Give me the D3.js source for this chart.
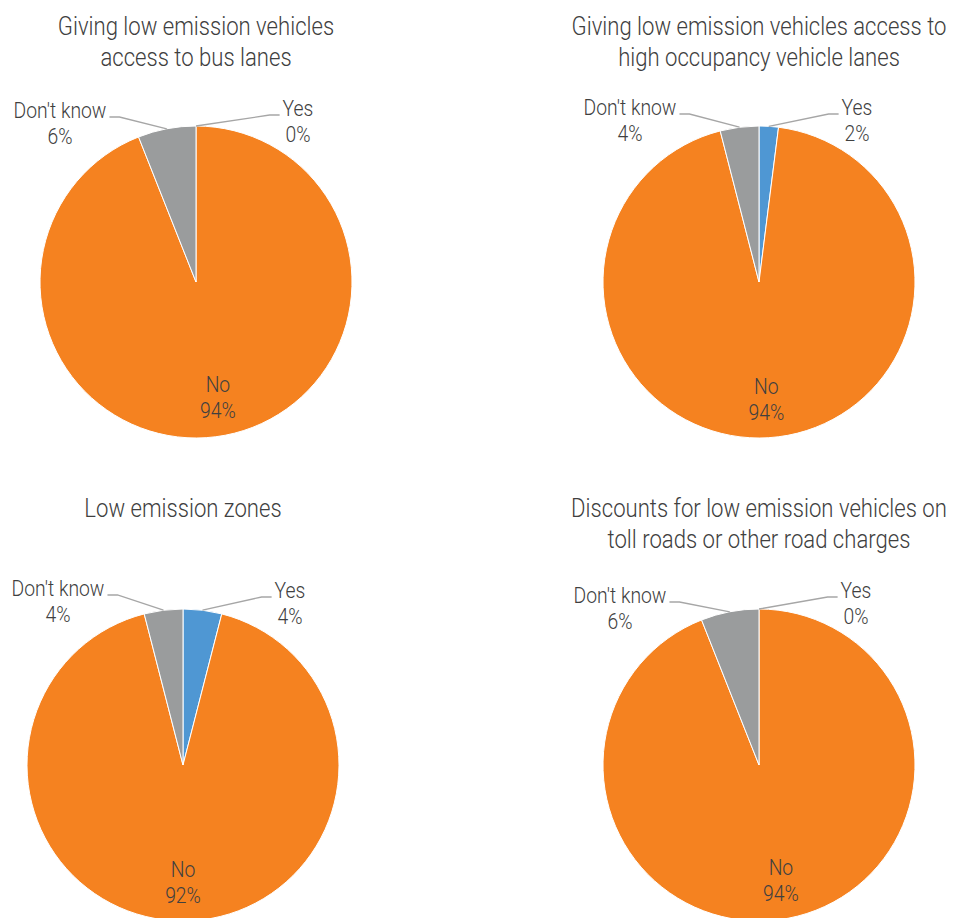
<!DOCTYPE html>
<html>
<head>
<meta charset="utf-8">
<script src="https://cdn.jsdelivr.net/npm/d3@7"></script>
<style>
  body { margin: 0; background: #fff; }
  text { font-family: "Roboto", sans-serif; font-weight: 300; fill: #404040; }
</style>
</head>
<body>
<svg id="chart" width="957" height="918"></svg>
<script>
// survey answers, one pie per measure
const titles = [
    ['Giving low emission vehicles', 'access to bus lanes'],
    ['Giving low emission vehicles access to', 'high occupancy vehicle lanes'],
    ['Low emission zones'],
    ['Discounts for low emission vehicles on', 'toll roads or other road charges']
];
const categories = ['Yes', 'No', "Don't know"];
const yesValues = [0, 2, 4, 0];
const noValues = [94, 94, 92, 94];
const dontKnowValues = [6, 4, 4, 6];

const colors = ['#4f97d3', '#f58220', '#9a9c9d'];

// where each pie sits, and the offsets of its small slice labels
const layout = [
    {cx: 196, cy: 282, titleY: 26, yesDx: 102, yesDy: -161, dkDx: -136, dkDy: -159},
    {cx: 759, cy: 282, titleY: 26, yesDx: 98, yesDy: -162, dkDx: -129, dkDy: -162},
    {cx: 183, cy: 765, titleY: 508, yesDx: 107, yesDy: -162, dkDx: -125, dkDy: -164},
    {cx: 759, cy: 765, titleY: 508, yesDx: 97, yesDy: -162, dkDx: -139, dkDy: -157}
];
const radius = 156;
const lineGap = 26;
// the original face is a narrow one, so squeeze the text sideways
const squeeze = 0.86;
const titleSqueeze = 0.885;

const svg = d3.select('#chart');

const pie = d3.pie().sort(null).value(d => d.value);
const arc = d3.arc().innerRadius(0).outerRadius(radius);

function narrowText(parent, x, y, size, sx) {
    return parent.append('text')
        .attr('transform', 'translate(' + x + ',' + y + ') scale(' + sx + ',1)')
        .attr('text-anchor', 'middle')
        .attr('font-size', size);
}

function drawPie(i) {
    const pos = layout[i];
    const data = categories.map((c, k) => ({
        name: c,
        value: [yesValues, noValues, dontKnowValues][k][i]
    }));
    const arcs = pie(data);

    const g = svg.append('g').attr('transform', 'translate(' + pos.cx + ',' + pos.cy + ')');

    // title, one or two lines
    const title = narrowText(svg, pos.cx, pos.titleY, 25, titleSqueeze);
    titles[i].forEach((t, j) => {
        title.append('tspan')
            .attr('x', 0)
            .attr('y', j * 31)
            .attr('dy', '0.35em')
            .text(t);
    });

    g.selectAll('path.slice')
        .data(arcs)
        .join('path')
        .attr('class', 'slice')
        .attr('d', arc)
        .attr('fill', (d, k) => colors[k])
        .attr('stroke', '#fff')
        .attr('stroke-width', 1);

    // big slice label sits inside
    const noArc = arcs[1];
    const inner = d3.arc().innerRadius(radius * 0.75).outerRadius(radius * 0.75);
    const c = inner.centroid(noArc);
    drawLabel(g, c[0], c[1], noArc.data.name, noArc.data.value);

    // small slices get labels outside with leader lines
    [[arcs[0], pos.yesDx, pos.yesDy, 1], [arcs[2], pos.dkDx, pos.dkDy, -1]].forEach(([a, dx, dy, side]) => {
        const lbl = drawLabel(g, dx, dy, a.data.name, a.data.value);
        const w = lbl.node().getComputedTextLength() * squeeze;
        const mid = (a.startAngle + a.endAngle) / 2;
        const px = Math.sin(mid) * radius;
        const py = -Math.cos(mid) * radius;
        const edgeX = dx - side * (w / 2 + 3);
        const elbowX = edgeX - side * 10;
        const ly = dy - lineGap / 2 + 7;
        g.append('polyline')
            .attr('points', [[px, py], [elbowX, ly], [edgeX, ly]].map(p => p.join(',')).join(' '))
            .attr('fill', 'none')
            .attr('stroke', '#a6a6a6')
            .attr('stroke-width', 1.3);
    });
}

function drawLabel(g, x, y, name, value) {
    const t = narrowText(g, x, y, 22.5, squeeze);
    t.append('tspan').attr('x', 0).attr('y', -lineGap / 2).attr('dy', '0.35em').text(name);
    t.append('tspan').attr('x', 0).attr('y', lineGap / 2).attr('dy', '0.35em').text(value + '%');
    return t.select('tspan');
}

for (let i = 0; i < 4; i++) drawPie(i);
</script>
</body>
</html>
